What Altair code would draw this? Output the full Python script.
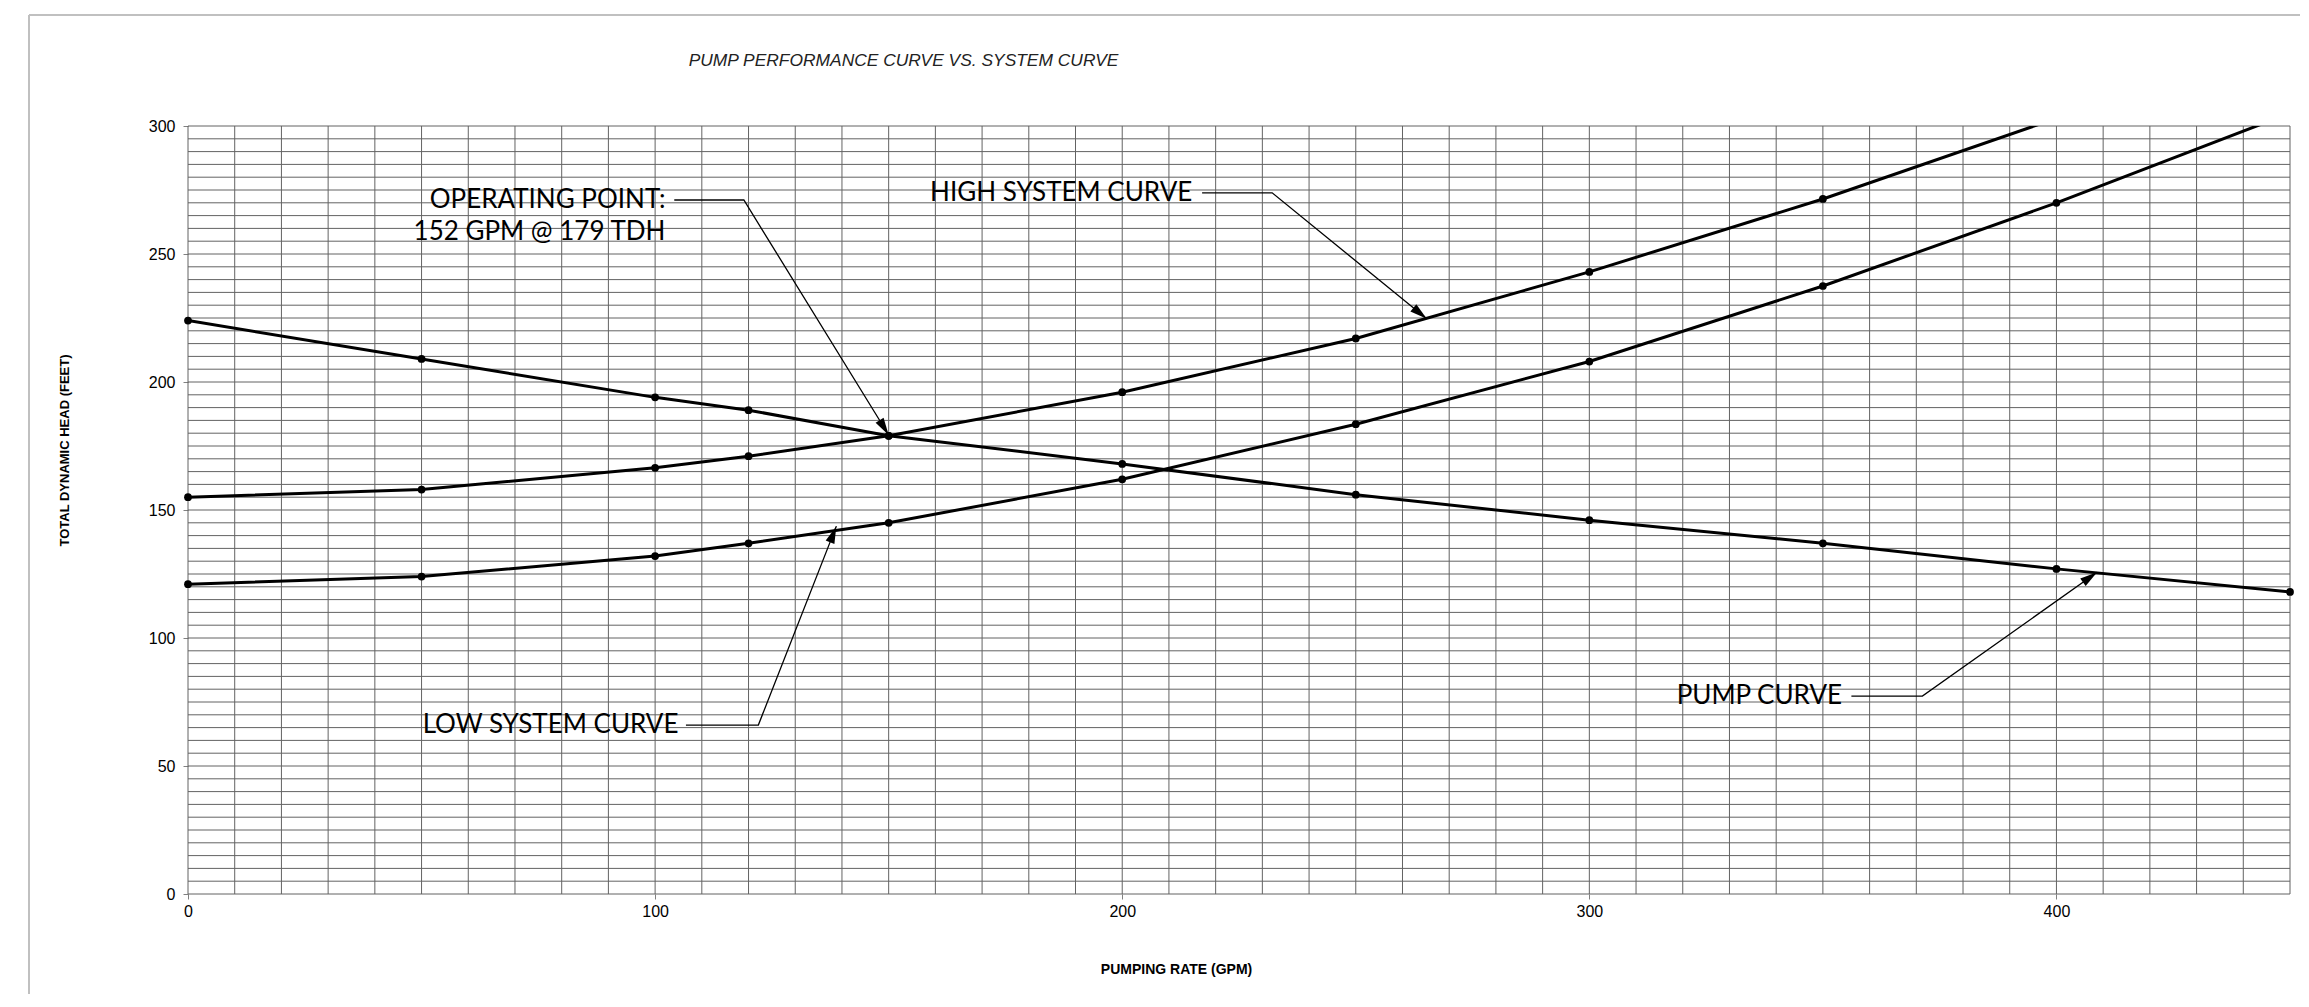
import math
import altair as alt
import pandas as pd

# ---------------- data ----------------
PUMP_GPM = [0, 50, 100, 120, 150, 200, 250, 300, 350, 400, 450]
PUMP_TDH = [224, 209, 194, 189, 179, 168, 156, 146, 137, 127, 118]

HIGH_GPM = [0, 50, 100, 120, 150, 200, 250, 300, 350, 400]
HIGH_TDH = [155, 158, 166.5, 171, 179, 196, 217, 243, 271.5, 303]

LOW_GPM = [0, 50, 100, 120, 150, 200, 250, 300, 350, 400, 450]
LOW_TDH = [121, 124, 132, 137, 145, 162, 183.5, 208, 237.5, 270, 305]

X_TICKS = [0, 100, 200, 300, 400]
Y_TICKS = [0, 50, 100, 150, 200, 250, 300]
X_GRID = list(range(0, 451, 10))
Y_GRID = list(range(0, 301, 5))

TITLE = "PUMP PERFORMANCE CURVE VS. SYSTEM CURVE"
X_TITLE = "PUMPING RATE (GPM)"
Y_TITLE = "TOTAL  DYNAMIC HEAD (FEET)"

# annotation texts (right-aligned at their anchor, in data units)
LABELS = ["OPERATING POINT:", "152 GPM @ 179 TDH", "HIGH SYSTEM CURVE",
          "LOW SYSTEM CURVE", "PUMP CURVE"]
LABEL_X = [102.2, 102.2, 215.0, 105.0, 354.1]
LABEL_Y = [271.1, 258.7, 273.9, 66.0, 77.3]

# leader lines: start, corner, arrow tip
LEADER_NAMES = ["op", "high", "low", "pump"]
LEADER_X = [[104.1, 119.0, 150.0], [217.1, 232.1, 265.2],
            [106.6, 122.1, 138.8], [356.1, 371.3, 408.7]]
LEADER_Y = [[271.1, 271.1, 179.3], [273.9, 273.9, 224.7],
            [66.0, 66.0, 143.7], [77.3, 77.3, 125.7]]

# ---------------- layout ----------------
W, H = 2102, 768
X_MAX, Y_MAX = 450, 300
SX, SY = W / X_MAX, H / Y_MAX

xscale = alt.Scale(domain=[0, X_MAX], nice=False, zero=False)
yscale = alt.Scale(domain=[0, Y_MAX], nice=False, zero=False)

# ---------------- tables ----------------
rows = []
for name, gx, gy in [("pump", PUMP_GPM, PUMP_TDH), ("high", HIGH_GPM, HIGH_TDH),
                     ("low", LOW_GPM, LOW_TDH)]:
    for a, b in zip(gx, gy):
        rows.append({"series": name, "x": a, "y": b})
curves = pd.DataFrame(rows)

vgrid = pd.DataFrame({"x": X_GRID})
hgrid = pd.DataFrame({"y": Y_GRID})

labels = pd.DataFrame({"x": LABEL_X, "y": LABEL_Y, "t": LABELS})

lrows = []
arows = []
for n, lx, ly in zip(LEADER_NAMES, LEADER_X, LEADER_Y):
    for i, (a, b) in enumerate(zip(lx, ly)):
        lrows.append({"name": n, "i": i, "x": a, "y": b})
    dx = (lx[2] - lx[1]) * SX
    dy = -(ly[2] - ly[1]) * SY
    ang = math.degrees(math.atan2(dx, -dy)) % 360
    arows.append({"name": n, "x": lx[2], "y": ly[2], "ang": ang})
leaders = pd.DataFrame(lrows)
arrows = pd.DataFrame(arows)

FONT = "Liberation Sans"

x_axis = alt.Axis(values=X_TICKS, grid=False, domain=False, tickSize=5,
                  tickColor="#808080", labelFont=FONT, labelFontSize=16,
                  labelPadding=4, labelFlush=False, labelColor="black",
                  labelOverlap=False, format="d",
                  title=X_TITLE, titleFont=FONT, titleFontWeight="bold",
                  titleFontSize=14, titleColor="black", titleX=988, titleY=75,
                  titleAlign="center", titleBaseline="middle")
y_axis = alt.Axis(values=Y_TICKS, grid=False, domain=False, tickSize=5,
                  tickColor="#808080", labelFont=FONT, labelFontSize=16,
                  labelPadding=8, labelColor="black", labelOverlap=False,
                  format="d",
                  title=Y_TITLE, titleFont=FONT, titleFontWeight="bold",
                  titleFontSize=13, titleColor="black", titleAngle=270,
                  titleX=-123.5, titleY=324, titleAlign="center",
                  titleBaseline="middle")

GRID_COLOR = "#636363"

vg = alt.Chart(vgrid).mark_rule(color=GRID_COLOR, strokeWidth=1).encode(
    x=alt.X("x:Q", scale=xscale, axis=x_axis))
hg = alt.Chart(hgrid).mark_rule(color=GRID_COLOR, strokeWidth=1).encode(
    y=alt.Y("y:Q", scale=yscale, axis=y_axis))

lines = alt.Chart(curves).mark_line(color="black", strokeWidth=3, clip=True).encode(
    x=alt.X("x:Q", scale=xscale),
    y=alt.Y("y:Q", scale=yscale),
    detail="series:N",
    order="x:Q",
)
dots = alt.Chart(curves).transform_filter(f"datum.y <= {Y_MAX}").mark_circle(
    color="black", size=60, opacity=1).encode(
    x=alt.X("x:Q", scale=xscale),
    y=alt.Y("y:Q", scale=yscale),
)

leader_lines = alt.Chart(leaders).mark_line(color="black", strokeWidth=1.3).encode(
    x=alt.X("x:Q", scale=xscale),
    y=alt.Y("y:Q", scale=yscale),
    detail="name:N",
    order="i:Q",
)
heads = alt.Chart(arrows).mark_point(
    shape="M0,0L-0.27,1L0.27,1Z", filled=True, color="black", opacity=1,
    size=1200, strokeWidth=0).encode(
    x=alt.X("x:Q", scale=xscale),
    y=alt.Y("y:Q", scale=yscale),
    angle=alt.Angle("ang:Q", scale=None),
)

texts = alt.Chart(labels).mark_text(
    align="right", baseline="middle", font="Lato", fontSize=26,
    color="black").encode(
    x=alt.X("x:Q", scale=xscale),
    y=alt.Y("y:Q", scale=yscale),
    text="t:N",
)

one = pd.DataFrame({"k": [0]})
frame_top = alt.Chart(one).mark_rule(color="#c0c0c0", strokeWidth=2).encode(
    x=alt.value(-159), x2=alt.value(W + 300), y=alt.value(-111))
frame_left = alt.Chart(one).mark_rule(color="#c0c0c0", strokeWidth=2).encode(
    x=alt.value(-159), y=alt.value(-111), y2=alt.value(H + 300))

title = alt.Chart(one).mark_text(
    text=TITLE, font=FONT, fontSize=17.4, fontStyle="italic",
    color="#222222", align="center", baseline="middle").encode(
    x=alt.value(715.5), y=alt.value(-65))

chart = alt.layer(
    vg, hg, lines, dots, leader_lines, heads, texts,
    frame_top, frame_left, title
).properties(
    width=W, height=H,
    padding={"left": 180, "top": 118, "right": 10, "bottom": 100},
    autosize=alt.AutoSizeParams(type="none"),
    background="white",
).configure_view(stroke=None)

chart.save("out.html", embed_options={"renderer": "svg", "actions": False})
